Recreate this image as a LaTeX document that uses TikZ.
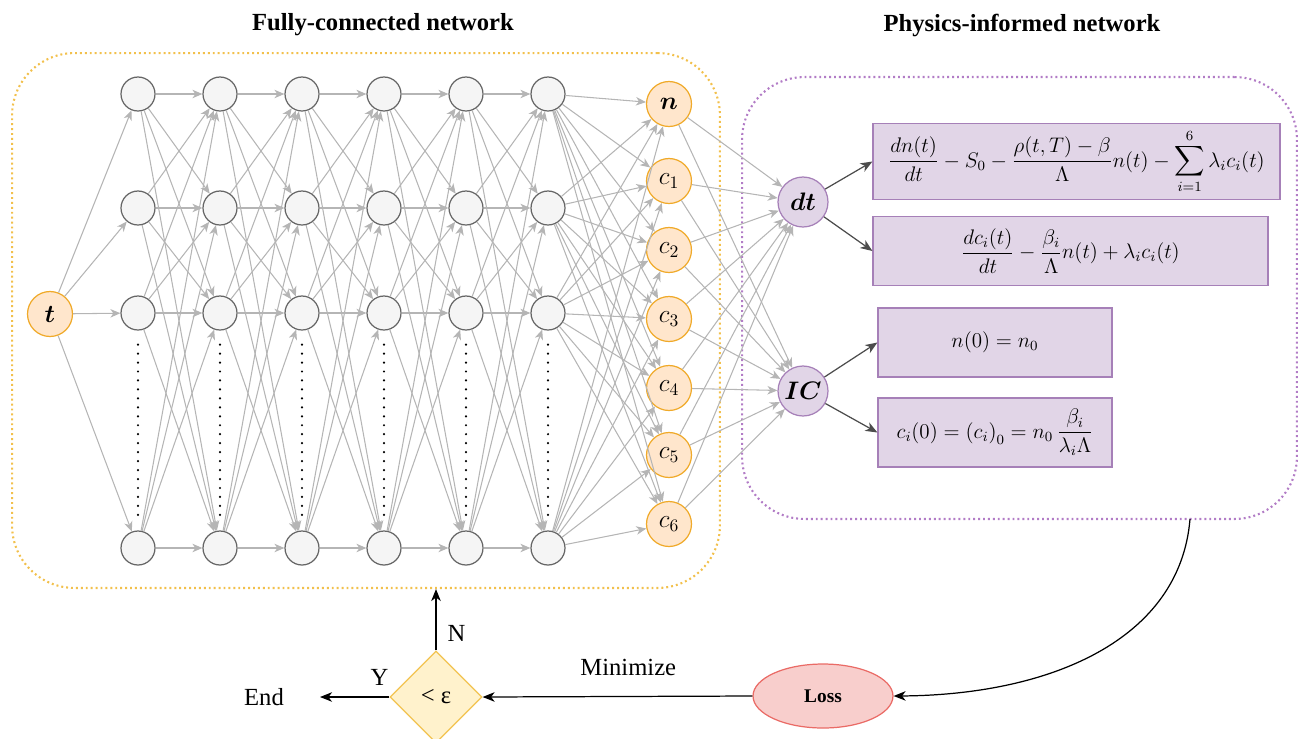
\documentclass[tikz,border=0pt]{standalone}
\usepackage{amsmath}
\usepackage{amssymb}
\usepackage{fontspec}
\setmainfont{Liberation Serif}
\usetikzlibrary{arrows.meta}
\usetikzlibrary{shapes.geometric}

\definecolor{hidfill}{HTML}{F5F5F5}
\definecolor{hiddraw}{HTML}{666666}
\definecolor{outfill}{HTML}{FFE6CC}
\definecolor{outdraw}{HTML}{F0AA2A}
\definecolor{phyfill}{HTML}{E1D5E7}
\definecolor{phydraw}{HTML}{A680B8}
\definecolor{fcnline}{HTML}{F2C04C}
\definecolor{pinnline}{HTML}{B27CC6}
\definecolor{connline}{HTML}{B5B5B5}
\definecolor{lossfill}{HTML}{F8CECC}
\definecolor{lossdraw}{HTML}{EA6B66}
\definecolor{decfill}{HTML}{FFF2CC}
\definecolor{decdraw}{HTML}{F2C350}

\begin{document}
\begin{tikzpicture}[
    x=0.02cm, y=-0.02cm,
    hid/.style={circle, draw=hiddraw, fill=hidfill, line width=0.7pt, minimum size=0.68cm, inner sep=0pt},
    outn/.style={circle, draw=outdraw, fill=outfill, line width=0.7pt, minimum size=0.9cm, inner sep=0pt, font=\Large},
    phyn/.style={circle, draw=phydraw, fill=phyfill, line width=0.7pt, minimum size=1cm, inner sep=0pt, font=\Large},
    eqbox/.style={rectangle, draw=phydraw, fill=phyfill, line width=0.7pt, minimum height=1.38cm, align=center, font=\fontsize{12}{14}\selectfont},
    frame/.style={rectangle, rounded corners=1.25cm, line width=1.2pt, dash pattern=on 1.1pt off 1.7pt},
    conn/.style={-{Stealth[length=2mm, width=1.7mm, inset=0.6mm]}, connline, line width=0.6pt},
    eqarrow/.style={-{Stealth[length=2.4mm, width=1.9mm, inset=0.7mm]}, black!70, line width=0.7pt},
    flow/.style={-{Stealth[length=2.4mm, width=1.9mm, inset=0.7mm]}, black, line width=0.7pt},
    vdots/.style={dash pattern=on 0pt off 5.1pt, line cap=round, line width=1.4pt},
    title/.style={font=\fontsize{14}{16}\selectfont\bfseries},
    lbl/.style={font=\fontsize{14}{16}\selectfont}
]
\useasboundingbox (0,0) rectangle (1298,738);

% frames
\node[frame, draw=fcnline, minimum width=14.16cm, minimum height=10.7cm] (fcn) at (366,320.5) {};
\node[frame, draw=pinnline, minimum width=11.1cm, minimum height=8.84cm] (pinn) at (1019.5,298) {};

\node[title] (fcntitle) at (383,25) {Fully-connected network};
\node[title] (pinntitle) at (1022,25) {Physics-informed network};

% input and hidden layers
\node[outn] (t) at (50,314) {$\boldsymbol{t}$};
\foreach \i/\x in {1/138,2/220,3/302,4/384,5/466,6/548}
  \foreach \j/\y in {1/94,2/208,3/313,4/548}
    \node[hid] (h\i\j) at (\x,\y) {};
\foreach \i in {1,...,6}
  \draw[vdots, shorten <=0.28cm, shorten >=0.24cm] (h\i3.south) -- (h\i4.north);

\foreach \j in {1,...,4}
  \draw[conn] (t) -- (h1\j);
\foreach \i/\k in {1/2,2/3,3/4,4/5,5/6}
  \foreach \a in {1,...,4}
    \foreach \b in {1,...,4}
      \draw[conn] (h\i\a) -- (h\k\b);

% output layer
\node[outn] (out0) at (669,104) {$\boldsymbol{n}$};
\node[outn] (out1) at (669,181) {$c_1$};
\node[outn] (out2) at (669,250) {$c_2$};
\node[outn] (out3) at (669,319) {$c_3$};
\node[outn] (out4) at (669,388) {$c_4$};
\node[outn] (out5) at (669,455) {$c_5$};
\node[outn] (out6) at (669,524) {$c_6$};

\foreach \a in {1,...,4}
  \foreach \b in {0,...,6}
    \draw[conn] (h6\a) -- (out\b);

% physics part
\node[phyn] (dt) at (803,202) {$\boldsymbol{dt}$};
\node[phyn] (ic) at (803,391) {$\boldsymbol{IC}$};

\foreach \b in {0,...,6}{
  \draw[conn] (out\b) -- (dt);
  \draw[conn] (out\b) -- (ic);
}

\node[eqbox, minimum width=8.14cm, minimum height=1.44cm] (eq1) at (1076.5,161.5)
  {$\dfrac{dn(t)}{dt}-S_0-\dfrac{\rho(t,T)-\beta}{\Lambda}n(t)-\displaystyle\sum_{i=1}^{6}\lambda_i c_i(t)$};
\node[eqbox, minimum width=7.9cm] (eq2) at (1070.5,251)
  {$\dfrac{dc_i(t)}{dt}-\dfrac{\beta_i}{\Lambda}n(t)+\lambda_i c_i(t)$};
\node[eqbox, minimum width=4.68cm] (eq3) at (995,342.5) {$n(0)=n_0$};
\node[eqbox, minimum width=4.68cm] (eq4) at (995,432.5)
  {$c_i(0)=\left(c_i\right)_0=n_0\,\dfrac{\beta_i}{\lambda_i\Lambda}$};

\draw[eqarrow] (dt) -- (eq1.west);
\draw[eqarrow] (dt) -- (eq2.west);
\draw[eqarrow] (ic) -- (eq3.west);
\draw[eqarrow] (ic) -- (eq4.west);

% training loop
\node[ellipse, draw=lossdraw, fill=lossfill, line width=0.7pt, minimum width=2.8cm, minimum height=1.28cm, font=\fontsize{11}{13}\selectfont\bfseries] (loss) at (823,696) {Loss};
\node[diamond, draw=decdraw, fill=decfill, line width=0.7pt, minimum size=1.84cm, inner sep=0pt, lbl] (dec) at (436,697) {< ε};
\node[lbl] (end) at (264,697) {End};
\coordinate (lossfrom) at (1190,519);

\draw[flow] (lossfrom) .. controls (1180,640) and (1050,695) .. (loss.east);
\draw[flow] (loss.west) -- (dec.east) node[pos=0.46, above=8pt, lbl] {Minimize};
\draw[flow] (dec.north) -- (dec.north |- fcn.south) node[pos=0.27, right=3pt, lbl] {N};
\draw[flow, shorten >=0.6cm] (dec.west) -- (end.east) node[pos=0.1, above=3pt, lbl] {Y};
\end{tikzpicture}
\end{document}
